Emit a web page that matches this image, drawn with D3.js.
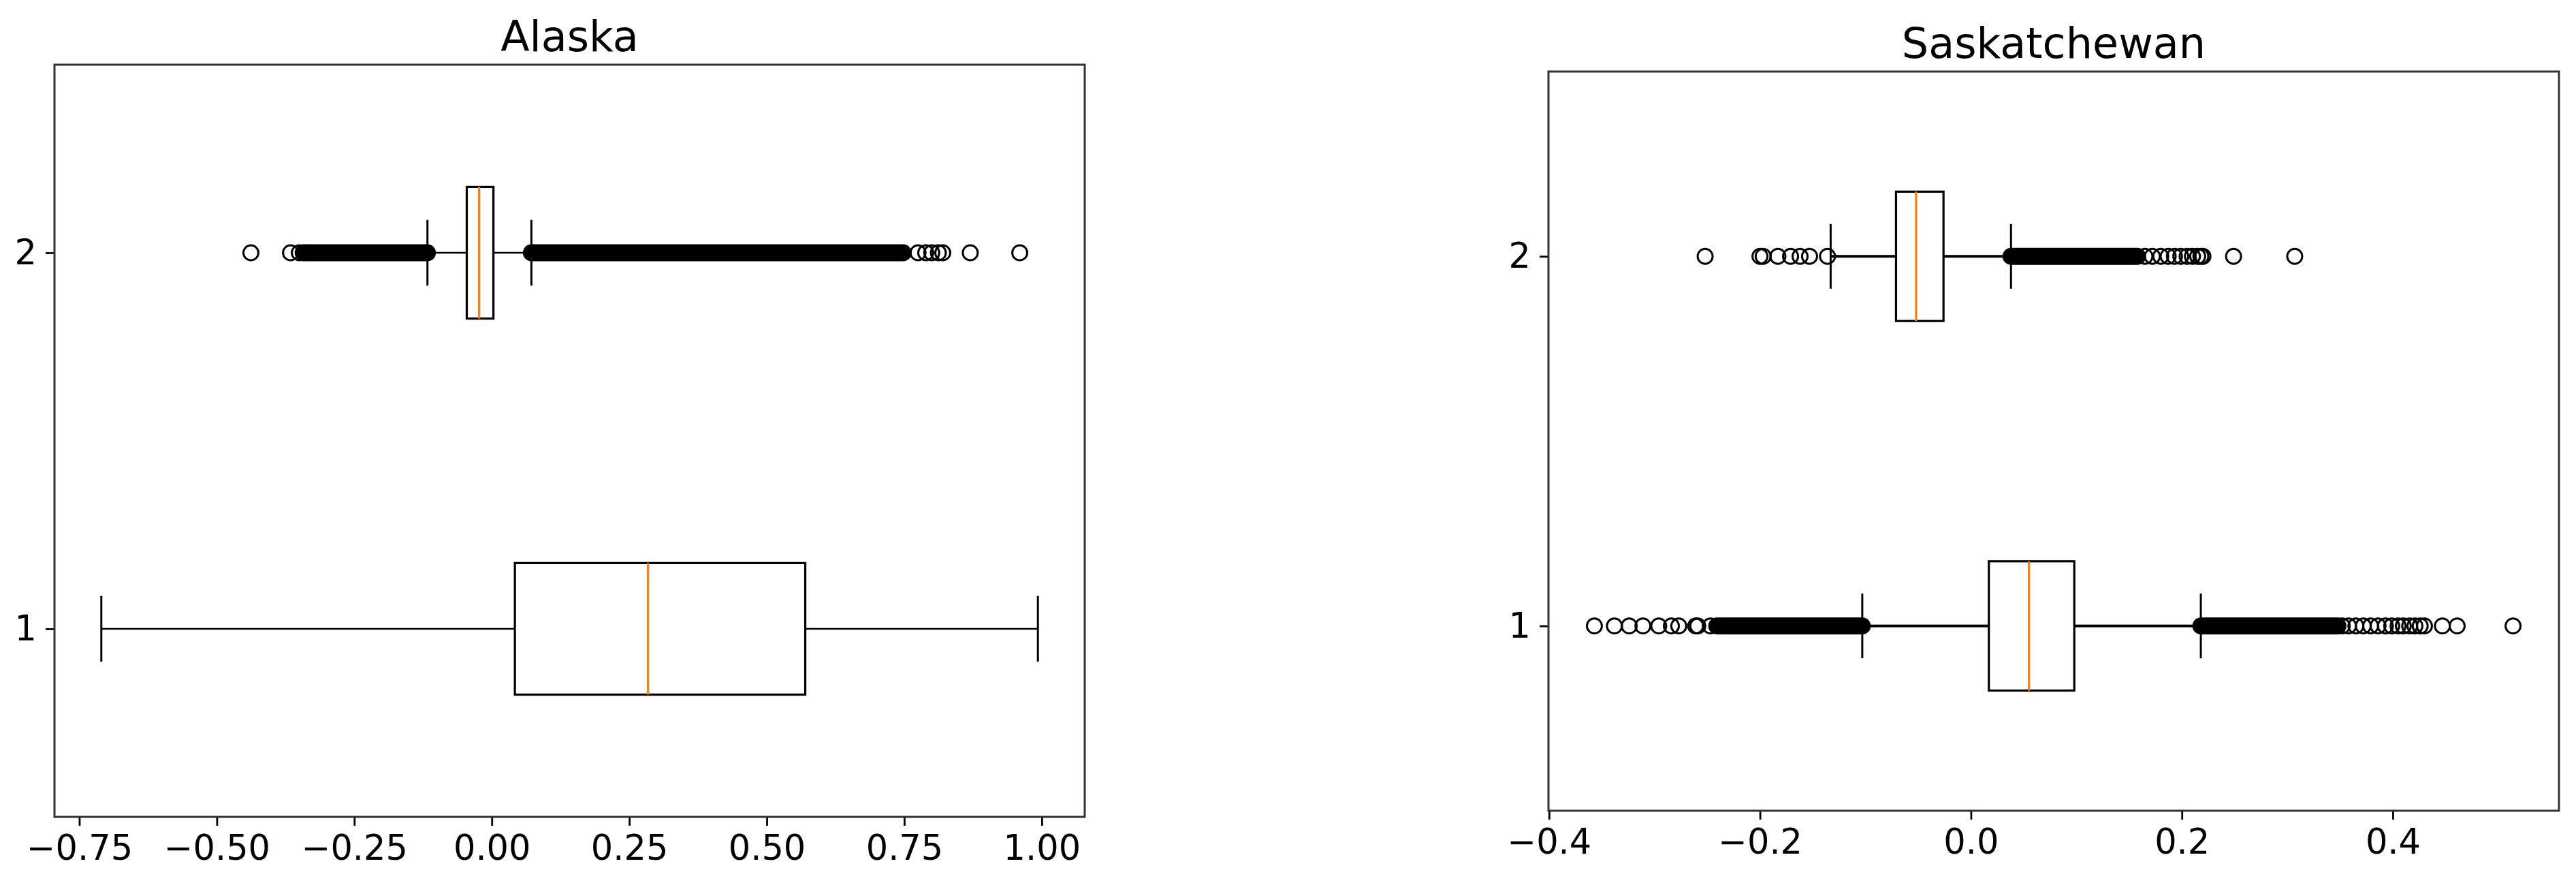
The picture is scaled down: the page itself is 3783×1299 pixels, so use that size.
<!DOCTYPE html>
<html>
<head>
<meta charset="utf-8">
<script src="https://cdn.jsdelivr.net/npm/d3@7"></script>
<style>
  body { margin: 0; background: #fff; }
  svg { display: block; }
</style>
</head>
<body>
<div id="chart"></div>
<script>

// titles and box positions
var panel_titles = ["Alaska", "Saskatchewan"];
var box_positions = [1, 2];

// box stats per position: [whisker low, q1, median, q3, whisker high]
var alaska_stats = [
	[-0.710, 0.042, 0.284, 0.570, 0.993],
	[-0.117, -0.0455, -0.023, 0.003, 0.072]
];
var sask_stats = [
	[-0.103, 0.017, 0.055, 0.098, 0.218],
	[-0.133, -0.071, -0.052, -0.026, 0.038]
];

// single outliers (index 0 = box 1, index 1 = box 2)
var alaska_fliers = [
	[],
	[-0.438, -0.366, -0.350, 0.775, 0.789, 0.800, 0.812, 0.820, 0.870, 0.960]
];
var sask_fliers = [
	[-0.357, -0.338, -0.324, -0.311, -0.296, -0.284, -0.277, -0.261, -0.259, -0.247,
	 0.352, 0.358, 0.365, 0.372, 0.379, 0.386, 0.393, 0.399, 0.405, 0.410,
	 0.416, 0.421, 0.426, 0.430, 0.447, 0.461, 0.514],
	[-0.252, -0.200, -0.197, -0.183, -0.171, -0.162, -0.153, -0.136,
	 0.165, 0.172, 0.180, 0.187, 0.193, 0.199, 0.205, 0.210, 0.215, 0.218, 0.220,
	 0.249, 0.307]
];

// stretches where the outliers are so dense they form a solid bar [from, to]
var alaska_dense = [
	[],
	[[-0.343, -0.117], [0.072, 0.748]]
];
var sask_dense = [
	[[-0.241, -0.103], [0.218, 0.348]],
	[[0.038, 0.158]]
];

// tick values
var alaska_ticks = [-0.75, -0.50, -0.25, 0.00, 0.25, 0.50, 0.75, 1.00];
var sask_ticks = [-0.4, -0.2, 0.0, 0.2, 0.4];

var W = 3783, H = 1299;
var FONT = "DejaVu Sans, Verdana, sans-serif";
var MEDIAN_COLOR = "#ff7f0e";
var BOX_WIDTH = 0.35;
var MARKER_R = 11;

var svg = d3.select("#chart").append("svg")
	.attr("width", W)
	.attr("height", H);

// draws one boxplot panel
function Draw_Panel(p){
	var g = svg.append("g");

	// matplotlib style autoscale: data extent plus 5% on each side
	var all = [];
	p.stats.forEach(function(s){ all.push(s[0], s[4]); });
	p.fliers.forEach(function(f){ all = all.concat(f); });
	p.dense.forEach(function(d){ d.forEach(function(r){ all.push(r[0], r[1]); }); });
	var ext = d3.extent(all);
	var pad = (ext[1] - ext[0]) * 0.05;

	var x = d3.scaleLinear()
		.domain([ext[0] - pad, ext[1] + pad])
		.range([p.left, p.right]);
	var y = d3.scaleLinear()
		.domain([0.5, 2.5])
		.range([p.bottom, p.top]);

	var half = (y(0) - y(BOX_WIDTH / 2));
	var cap = half / 2;

	box_positions.forEach(function(pos, i){
		var s = p.stats[i];
		var yc = y(pos);

		// whiskers
		g.append("line")
			.attr("x1", x(s[0])).attr("x2", x(s[1]))
			.attr("y1", yc).attr("y2", yc)
			.attr("stroke", "#000").attr("stroke-width", p.whisker);
		g.append("line")
			.attr("x1", x(s[3])).attr("x2", x(s[4]))
			.attr("y1", yc).attr("y2", yc)
			.attr("stroke", "#000").attr("stroke-width", p.whisker);

		// caps
		[s[0], s[4]].forEach(function(v){
			g.append("line")
				.attr("x1", x(v)).attr("x2", x(v))
				.attr("y1", yc - cap).attr("y2", yc + cap)
				.attr("stroke", "#000").attr("stroke-width", 3);
		});

		// box
		g.append("rect")
			.attr("x", x(s[1]))
			.attr("y", yc - half)
			.attr("width", x(s[3]) - x(s[1]))
			.attr("height", 2 * half)
			.attr("fill", "none")
			.attr("stroke", "#000")
			.attr("stroke-width", 3.2);

		// median
		g.append("line")
			.attr("x1", x(s[2])).attr("x2", x(s[2]))
			.attr("y1", yc - half).attr("y2", yc + half)
			.attr("stroke", MEDIAN_COLOR).attr("stroke-width", 3.2);

		// dense outlier bars
		var ro = MARKER_R + 1.5;
		g.selectAll(null)
			.data(p.dense[i])
			.enter().append("rect")
			.attr("x", function(d){ return x(d[0]) - ro; })
			.attr("y", yc - ro)
			.attr("width", function(d){ return x(d[1]) - x(d[0]) + 2 * ro; })
			.attr("height", 2 * ro)
			.attr("rx", ro)
			.attr("fill", "#000");

		// single outliers
		g.selectAll(null)
			.data(p.fliers[i])
			.enter().append("circle")
			.attr("cx", function(d){ return x(d); })
			.attr("cy", yc)
			.attr("r", MARKER_R)
			.attr("fill", "none")
			.attr("stroke", "#000")
			.attr("stroke-width", 3);
	});

	// axes
	var xAxis = g.append("g")
		.attr("transform", "translate(0," + p.bottom + ")")
		.call(d3.axisBottom(x)
			.tickValues(p.ticks)
			.tickFormat(d3.format(p.fmt))
			.tickSize(13)
			.tickPadding(14));
	var yAxis = g.append("g")
		.attr("transform", "translate(" + p.left + ",0)")
		.call(d3.axisLeft(y)
			.tickValues(box_positions)
			.tickFormat(d3.format("d"))
			.tickSize(13)
			.tickPadding(13));

	[xAxis, yAxis].forEach(function(a){
		a.select(".domain").remove();
		a.selectAll(".tick line").attr("stroke", "#000").attr("stroke-width", 2.8);
		a.selectAll(".tick text")
			.attr("fill", "#000")
			.attr("font-family", FONT)
			.attr("font-size", "51px");
	});

	// frame
	g.append("rect")
		.attr("x", p.left)
		.attr("y", p.top)
		.attr("width", p.right - p.left)
		.attr("height", p.bottom - p.top)
		.attr("fill", "none")
		.attr("stroke", "#333")
		.attr("stroke-width", 3);

	// title
	g.append("text")
		.attr("x", (p.left + p.right) / 2)
		.attr("y", p.top - 20)
		.attr("text-anchor", "middle")
		.attr("font-family", FONT)
		.attr("font-size", "62px")
		.attr("fill", "#000")
		.text(p.title);
}

Draw_Panel({
	title: panel_titles[0], stats: alaska_stats, fliers: alaska_fliers, dense: alaska_dense,
	ticks: alaska_ticks, fmt: ".2f", whisker: 2.6,
	left: 80, right: 1593, top: 95, bottom: 1199
});
Draw_Panel({
	title: panel_titles[1], stats: sask_stats, fliers: sask_fliers, dense: sask_dense,
	ticks: sask_ticks, fmt: ".1f", whisker: 3.8,
	left: 2274, right: 3758, top: 105, bottom: 1190
});

</script>
</body>
</html>
